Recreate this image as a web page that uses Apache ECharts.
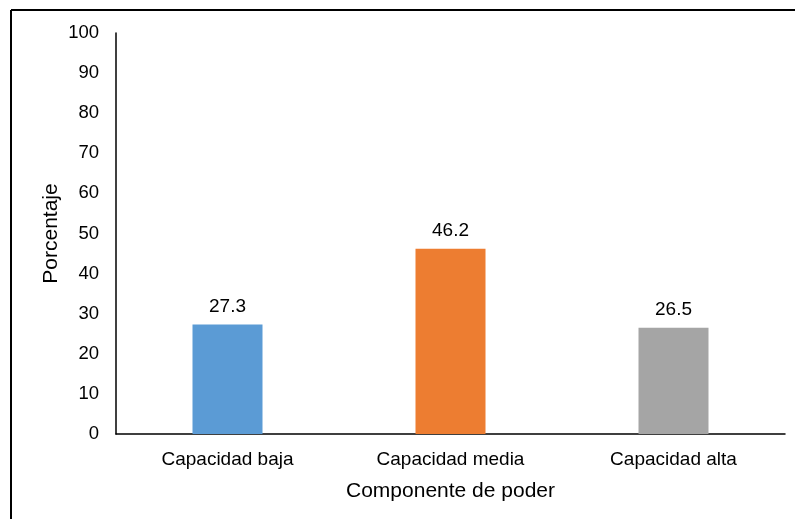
<!DOCTYPE html>
<html>
<head>
<meta charset="utf-8">
<script src="https://cdn.jsdelivr.net/npm/echarts@6/dist/echarts.min.js"></script>
<style>
  html, body { margin: 0; padding: 0; background: #fff; }
  #chart { width: 795px; height: 519px; }
</style>
</head>
<body>
<div id="chart"></div>
<script>
// categorías y valores
const categories = ['Capacidad baja', 'Capacidad media', 'Capacidad alta']
const values = [27.3, 46.2, 26.5]
const barColors = ['#5B9BD5', '#ED7D31', '#A5A5A5']

const chart = echarts.init(document.getElementById('chart'))
const font = 'Liberation Sans, Arial, sans-serif'

const option = {
  animation: false,
  graphic: [
    // marco recortado (solo arriba e izquierda)
    { type: 'line', shape: { x1: 11, y1: 10, x2: 795, y2: 10 }, style: { stroke: '#000', lineWidth: 2 } },
    { type: 'line', shape: { x1: 11, y1: 10, x2: 11, y2: 519 }, style: { stroke: '#000', lineWidth: 2 } }
  ],
  grid: { left: 116, top: 33, right: 10, bottom: 85 },
  xAxis: {
    type: 'category',
    data: categories,
    name: 'Componente de poder',
    nameLocation: 'middle',
    nameGap: 47,
    nameTextStyle: { fontFamily: font, fontSize: 21, color: '#000' },
    axisLine: { lineStyle: { color: '#000', width: 1.5 } },
    axisTick: { show: false },
    axisLabel: { fontFamily: font, fontSize: 19, color: '#000', margin: 16 }
  },
  yAxis: {
    type: 'value',
    min: 0,
    max: 100,
    interval: 10,
    name: 'Porcentaje',
    nameLocation: 'middle',
    nameGap: 54,
    nameMoveOverlap: false,
    nameTextStyle: { fontFamily: font, fontSize: 21, color: '#000' },
    axisLine: { show: true, lineStyle: { color: '#000', width: 1.5 } },
    axisTick: { show: false },
    splitLine: { show: false },
    axisLabel: { fontFamily: font, fontSize: 18.5, color: '#000', margin: 17 }
  },
  series: [{
    type: 'bar',
    barWidth: 70,
    data: values.map((v, i) => ({ value: v, itemStyle: { color: barColors[i] } })),
    label: {
      show: true,
      position: 'top',
      distance: 8,
      fontFamily: font,
      fontSize: 19,
      color: '#000',
      formatter: p => p.value.toFixed(1)
    }
  }]
}
chart.setOption(option)
</script>
</body>
</html>
